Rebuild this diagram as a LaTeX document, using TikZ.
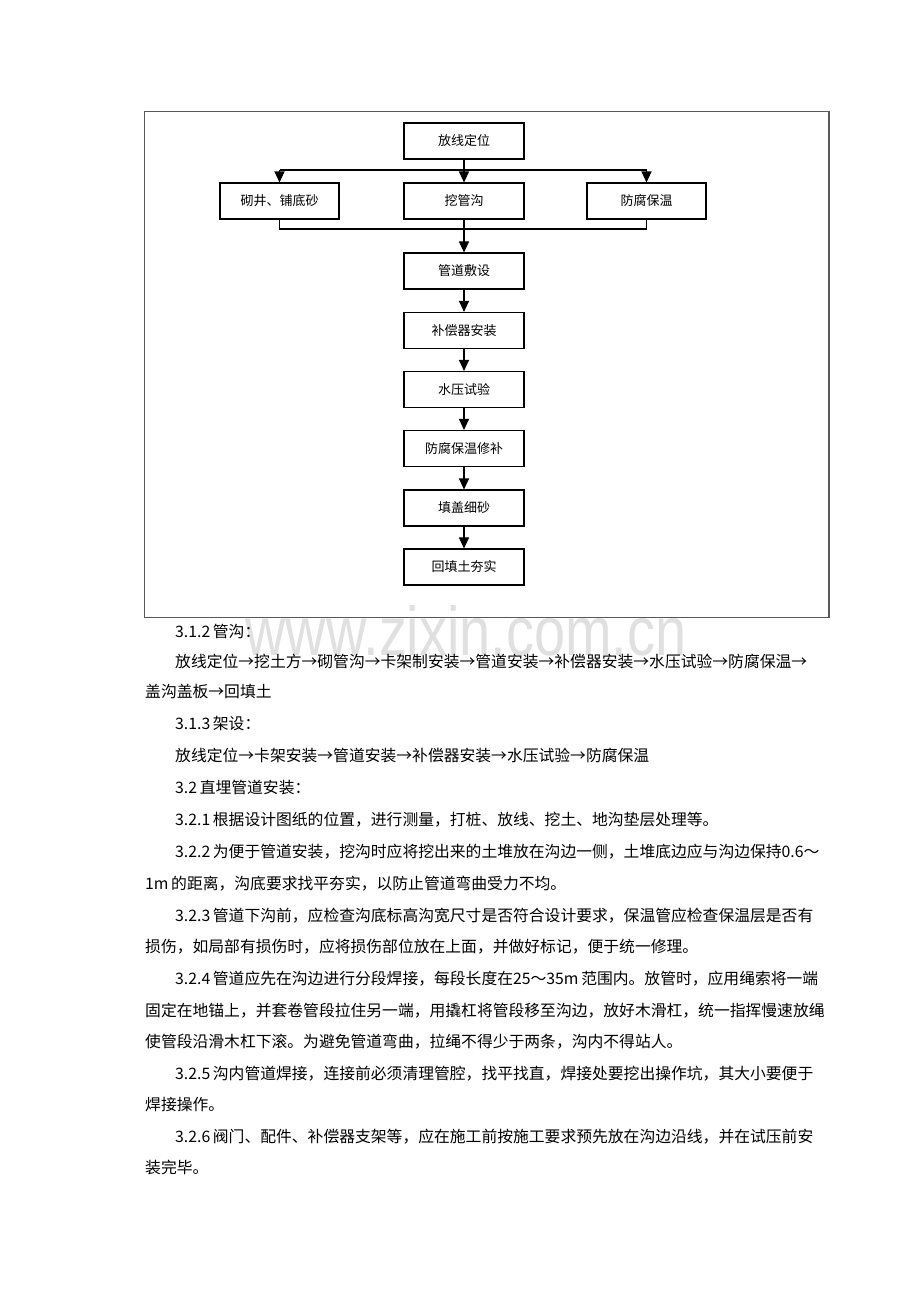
\documentclass[tikz,border=0pt]{standalone}
\usepackage{fontspec}
\usetikzlibrary{arrows.meta}
\newfontfamily\cjk{Noto Sans CJK SC}
\newfontfamily\wmfont[FakeStretch=0.81]{Liberation Sans}
\XeTeXlinebreaklocale "zh"
\XeTeXlinebreakskip=0pt plus 2pt minus 1pt
\begin{document}
\begin{tikzpicture}[x=1pt,y=-1pt,
  box/.style={draw,line width=1.1pt,minimum width=120pt,minimum height=36pt,inner sep=0pt,
    font=\cjk\fontsize{13}{13}\selectfont},
  arr/.style={-{Triangle[length=11pt,width=10pt]},line width=1.1pt},
  conn/.style={line width=1.1pt},
  txt/.style={anchor=base west,inner sep=0pt,font=\cjk\fontsize{15.8}{16}\selectfont},
  frame/.style={draw=black!65,line width=1.2pt}]
\useasboundingbox[fill=white] (0,0) rectangle (920,1302);
% watermark
\node[anchor=base,inner sep=0pt,font=\wmfont\fontsize{69}{69}\selectfont,text=black!12] (wm) at (466,655) {www.zixin.com.cn};
% frame
\draw[frame] (144.5,111.5) rectangle (829,617.5);
% boxes
\node[box] (a) at (464,141) {放线定位};
\node[box,minimum width=119pt] (b) at (279.5,201) {砌井、铺底砂};
\node[box] (c) at (464,201) {挖管沟};
\node[box,minimum width=119pt] (d) at (646.5,201) {防腐保温};
\node[box] (e) at (464,271) {管道敷设};
\node[box] (f) at (464,330.5) {补偿器安装};
\node[box] (g) at (464,389.5) {水压试验};
\node[box] (h) at (464,448.5) {防腐保温修补};
\node[box] (i) at (464,508) {填盖细砂};
\node[box] (j) at (464,567) {回填土夯实};
\coordinate (s1) at (464,170);
\coordinate (s2) at (464,229);
% connectors
\draw[conn] (a.south) -- (s1);
\draw[conn] (b.north |- s1) -- (d.north |- s1);
\draw[arr] (b.north |- s1) -- (b.north);
\draw[arr] (s1) -- (c.north);
\draw[arr] (d.north |- s1) -- (d.north);
\draw[conn] (b.south) -- (b.south |- s2) -- (d.south |- s2) -- (d.south);
\draw[arr] (c.south) -- (e.north);
\draw[arr] (e) -- (f);
\draw[arr] (f) -- (g);
\draw[arr] (g) -- (h);
\draw[arr] (h) -- (i);
\draw[arr] (i) -- (j);
% body text
\node[txt] (t1) at (175,637) {3.1.2\,管沟：};
\node[txt] (t2) at (175,667.5) {\makebox[654pt][s]{放线定位→挖土方→砌管沟→卡架制安装→管道安装→补偿器安装→水压试验→防腐保温→}};
\node[txt] (t3) at (145,697) {盖沟盖板→回填土};
\node[txt] (t4) at (175,729) {3.1.3\,架设：};
\node[txt] (t5) at (175,761) {放线定位→卡架安装→管道安装→补偿器安装→水压试验→防腐保温};
\node[txt] (t6) at (175,793) {3.2\,直埋管道安装：};
\node[txt] (t7) at (175,825) {3.2.1\,根据设计图纸的位置，进行测量，打桩、放线、挖土、地沟垫层处理等。};
\node[txt] (t8) at (175,857) {\makebox[654pt][s]{3.2.2\,为便于管道安装，挖沟时应将挖出来的土堆放在沟边一侧，土堆底边应与沟边保持0.6～}};
\node[txt] (t9) at (145,889) {1m\,的距离，沟底要求找平夯实，以防止管道弯曲受力不均。};
\node[txt] (t10) at (175,921) {\makebox[654pt][s]{3.2.3\,管道下沟前，应检查沟底标高沟宽尺寸是否符合设计要求，保温管应检查保温层是否有}};
\node[txt] (t11) at (145,952) {损伤，如局部有损伤时，应将损伤部位放在上面，并做好标记，便于统一修理。};
\node[txt] (t12) at (175,984) {\makebox[654pt][s]{3.2.4\,管道应先在沟边进行分段焊接，每段长度在25～35m\,范围内。放管时，应用绳索将一端}};
\node[txt] (t13) at (145,1016) {\makebox[684pt][s]{固定在地锚上，并套卷管段拉住另一端，用撬杠将管段移至沟边，放好木滑杠，统一指挥慢速放绳}};
\node[txt] (t14) at (145,1047) {使管段沿滑木杠下滚。为避免管道弯曲，拉绳不得少于两条，沟内不得站人。};
\node[txt] (t15) at (175,1079) {\makebox[654pt][s]{3.2.5\,沟内管道焊接，连接前必须清理管腔，找平找直，焊接处要挖出操作坑，其大小要便于}};
\node[txt] (t16) at (145,1110) {焊接操作。};
\node[txt] (t17) at (175,1142) {\makebox[654pt][s]{3.2.6\,阀门、配件、补偿器支架等，应在施工前按施工要求预先放在沟边沿线，并在试压前安}};
\node[txt] (t18) at (145,1173) {装完毕。};
\end{tikzpicture}
\end{document}
